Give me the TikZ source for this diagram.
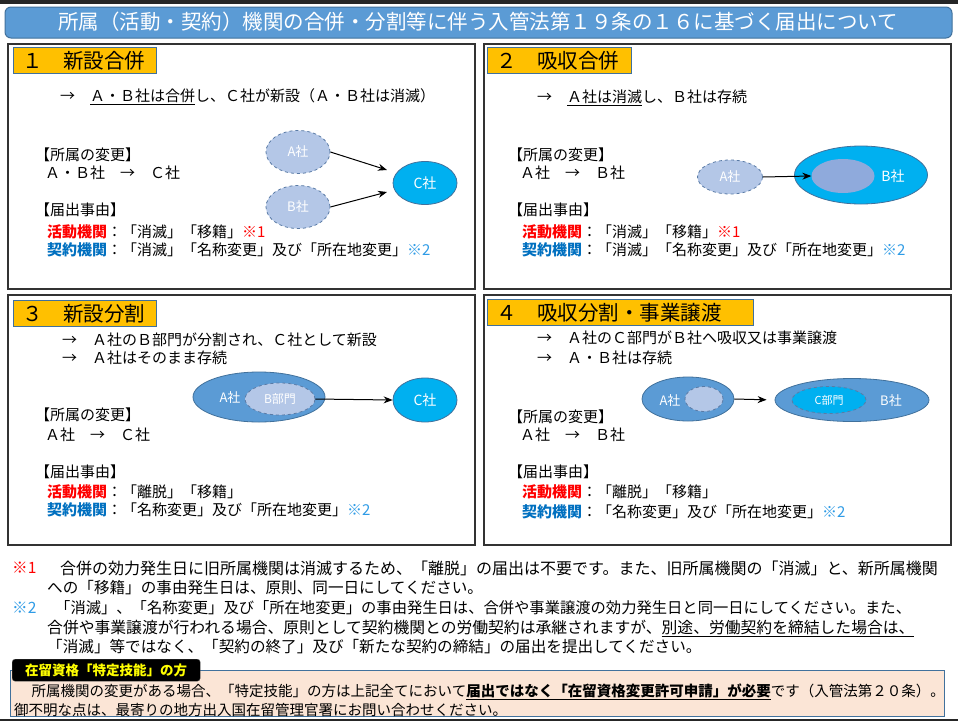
\documentclass[tikz,border=0pt]{standalone}
\usepackage{fontspec}
\setmainfont{Noto Sans CJK JP}
\usetikzlibrary{shapes.geometric,arrows.meta}
\definecolor{titleblue}{HTML}{5B9BD5}
\definecolor{edgeblue}{HTML}{41719C}
\definecolor{headorange}{HTML}{FFC000}
\definecolor{paleblue}{HTML}{B4C7E7}
\definecolor{cyanblue}{HTML}{00B0F0}
\definecolor{midblue}{HTML}{5B9BD5}
\definecolor{innerblue}{HTML}{8FAADC}
\definecolor{dashedge}{HTML}{5A7BA6}
\definecolor{katsudo}{HTML}{FF0000}
\definecolor{keiyaku}{HTML}{0070C0}
\definecolor{notetwo}{HTML}{2E9BE6}
\definecolor{peach}{HTML}{FBE5D6}
\definecolor{tabyellow}{HTML}{FFFF00}
\definecolor{framegray}{HTML}{333333}
\newcommand{\ktd}{\textcolor{katsudo}{\textbf{活動機関}}}
\newcommand{\kyk}{\textcolor{keiyaku}{\textbf{契約機関}}}
\newcommand{\nA}{\textcolor{katsudo}{※1}}
\newcommand{\nB}{\textcolor{notetwo}{※2}}
\begin{document}
\begin{tikzpicture}[x=1pt,y=-1pt,
  txt/.style={anchor=west,inner sep=0pt,font=\fontsize{15}{18}\selectfont},
  notetxt/.style={anchor=west,inner sep=0pt,font=\fontsize{15.6}{18}\selectfont},
  boxtxt/.style={anchor=west,inner sep=0pt,font=\fontsize{14.5}{17}\selectfont},
  panel/.style={draw=framegray,line width=1.5pt},
  hdbox/.style={draw=edgeblue,fill=headorange,line width=0.8pt,anchor=north west,
     minimum height=26pt,inner xsep=9pt,inner ysep=0pt,align=left,
     font=\fontsize{20.5}{24}\selectfont},
  dashell/.style={ellipse,draw=dashedge,dashed,line width=0.8pt,fill=paleblue,
     inner sep=0pt,text=white,font=\fontsize{13}{15}\selectfont},
  cyanell/.style={ellipse,draw=edgeblue,line width=0.8pt,fill=cyanblue,
     inner sep=0pt,text=white,font=\fontsize{14}{16}\selectfont},
  midell/.style={ellipse,draw=edgeblue,line width=0.8pt,fill=midblue,
     inner sep=0pt,text=white,font=\fontsize{13}{15}\selectfont},
  lbl/.style={inner sep=0pt,text=white,font=\fontsize{13}{15}\selectfont},
  arr/.style={-{Stealth[length=9pt,width=7pt]},line width=1pt,black}]
\useasboundingbox (0,0) rectangle (958,723);
\fill[white] (0,0) rectangle (958,723);
% top and bottom dark bars
\fill[black!85] (0,0) rectangle (958,4);
\fill[black!85] (0,718.5) rectangle (958,721);
% title
\draw[draw=edgeblue,fill=titleblue,line width=1pt,rounded corners=6pt] (5,7) rectangle (952,38);
\node (title) [text=white,inner sep=0pt,font=\fontsize{20.5}{24}\selectfont] at (478,22)
  {所属（活動・契約）機関の合併・分割等に伴う入管法第１９条の１６に基づく届出について};
% panels
\draw[panel] (8,44) rectangle (475,289);
\draw[panel] (484,44) rectangle (951,289);
\draw[panel] (8,295) rectangle (475,545);
\draw[panel] (484,295) rectangle (951,545);

% ===== Panel 1
\node (h1) [hdbox,text width=125pt] at (13,47) {１　新設合併};
\node (p1a) [txt] at (60,97) {→　\underline{Ａ・Ｂ社は合併}し、Ｃ社が新設（Ａ・Ｂ社は消滅）};
\node (p1b) [txt] at (35,155) {【所属の変更】};
\node (p1c) [txt] at (45,173) {Ａ・Ｂ社　→　Ｃ社};
\node (p1d) [txt] at (35,210) {【届出事由】};
\node (p1e) [txt] at (47,232) {\ktd：「消滅」「移籍」\nA};
\node (p1f) [txt] at (47,250) {\kyk：「消滅」「名称変更」及び「所在地変更」\nB};
\node (a1) [dashell,minimum width=64pt,minimum height=43pt] at (298,152) {A社};
\node (b1) [dashell,minimum width=64pt,minimum height=43pt] at (298,207) {B社};
\node (c1) [cyanell,minimum width=64pt,minimum height=43pt] at (425,183) {C社};
\coordinate (c1in) at (387,170);
\coordinate (c1in2) at (387,192);
\draw[arr] (a1.east) -- (c1in);
\draw[arr] (b1.east) -- (c1in2);

% ===== Panel 2
\node (h2) [hdbox,text width=126pt] at (487,47) {２　吸収合併};
\node (p2a) [txt] at (537,98) {→　\underline{Ａ社は消滅}し、Ｂ社は存続};
\node (p2b) [txt] at (508,155) {【所属の変更】};
\node (p2c) [txt] at (520,173) {Ａ社　→　Ｂ社};
\node (p2d) [txt] at (508,210) {【届出事由】};
\node (p2e) [txt] at (522,232) {\ktd：「消滅」「移籍」\nA};
\node (p2f) [txt] at (522,250) {\kyk：「消滅」「名称変更」及び「所在地変更」\nB};
\node (a2) [dashell,minimum width=65pt,minimum height=34pt] at (730,177) {A社};
\node (b2) [cyanell,minimum width=133pt,minimum height=58pt] at (861,175) {};
\node (i2) [ellipse,fill=innerblue,inner sep=0pt,minimum width=63pt,minimum height=34pt] at (843,176) {};
\node (b2l) [lbl,font=\fontsize{14}{16}\selectfont] at (893,176) {B社};
\draw[arr] (a2.east) -- (i2.west);

% ===== Panel 3
\node (h3) [hdbox,text width=125pt] at (13,300) {３　新設分割};
\node (p3a) [txt] at (62,340) {→　Ａ社のＢ部門が分割され、Ｃ社として新設};
\node (p3a2) [txt] at (62,358) {→　Ａ社はそのまま存続};
\node (p3b) [txt] at (35,415) {【所属の変更】};
\node (p3c) [txt] at (45,435) {Ａ社　→　Ｃ社};
\node (p3d) [txt] at (35,472) {【届出事由】};
\node (p3e) [txt] at (47,492) {\ktd：「離脱」「移籍」};
\node (p3f) [txt] at (47,510) {\kyk：「名称変更」及び「所在地変更」\nB};
\node (a3) [midell,minimum width=132pt,minimum height=50pt] at (259,397) {};
\node (a3l) [lbl] at (230,398) {A社};
\node (bb3) [dashell,minimum width=70pt,minimum height=32pt,font=\fontsize{12}{14}\selectfont] at (280,399) {B部門};
\node (c3) [cyanell,minimum width=64pt,minimum height=44pt] at (425,400) {C社};
\draw[arr] (bb3.east) -- (c3.west);

% ===== Panel 4
\node (h4) [hdbox,text width=248pt] at (487,299) {４　吸収分割・事業譲渡};
\node (p4a) [txt] at (537,338) {→　Ａ社のＣ部門がＢ社へ吸収又は事業譲渡};
\node (p4a2) [txt] at (537,358) {→　Ａ・Ｂ社は存続};
\node (p4b) [txt] at (508,417) {【所属の変更】};
\node (p4c) [txt] at (520,435) {Ａ社　→　Ｂ社};
\node (p4d) [txt] at (508,472) {【届出事由】};
\node (p4e) [txt] at (522,492) {\ktd：「離脱」「移籍」};
\node (p4f) [txt] at (522,512) {\kyk：「名称変更」及び「所在地変更」\nB};
\node (a4) [midell,minimum width=92pt,minimum height=44pt] at (688,399) {};
\node (a4l) [lbl] at (670,401) {A社};
\node (i4) [dashell,minimum width=38pt,minimum height=25pt] at (704,399) {};
\node (b4) [midell,minimum width=154pt,minimum height=43pt] at (852,400) {};
\node (c4) [dashell,fill=cyanblue,minimum width=74pt,minimum height=27pt,font=\fontsize{11}{13}\selectfont] at (829,400) {C部門};
\node (b4l) [lbl] at (891,401) {B社};
\draw[arr,shorten >=8pt] (a4.east) -- (b4.west);

% ===== Notes
\node (n1m) [notetxt,text=katsudo] at (12,568) {※1};
\node (n1a) [notetxt,font=\fontsize{16}{18}\selectfont] at (60,568) {合併の効力発生日に旧所属機関は消滅するため、「離脱」の届出は不要です。また、旧所属機関の「消滅」と、新所属機関};
\node (n1b) [notetxt] at (47,588) {への「移籍」の事由発生日は、原則、同一日にしてください。};
\node (n2m) [notetxt,text=notetwo] at (12,608) {※2};
\node (n2a) [notetxt,font=\fontsize{15.3}{18}\selectfont] at (55,608) {「消滅」、「名称変更」及び「所在地変更」の事由発生日は、合併や事業譲渡の効力発生日と同一日にしてください。また、};
\node (n2b) [notetxt,font=\fontsize{15.8}{18}\selectfont] at (47,628) {合併や事業譲渡が行われる場合、原則として契約機関との労働契約は承継されますが、\underline{別途、労働契約を締結した場合は、}};
\node (n2c) [notetxt] at (47,647) {「消滅」等ではなく、「契約の終了」及び「新たな契約の締結」の届出を提出してください。};

% ===== Bottom box
\draw[draw=edgeblue,fill=peach,line width=0.8pt] (10,670) rectangle (944,716);
\node (tab) [draw=black!70,fill=black,rounded corners=3pt,anchor=north west,
  minimum width=188pt,minimum height=22pt,inner sep=2pt,text=tabyellow,
  font=\bfseries\fontsize{13.5}{15}\selectfont] at (12,659) {在留資格「特定技能」の方};
\node (bx1) [boxtxt] at (17,692) {　所属機関の変更がある場合、「特定技能」の方は上記全てにおいて\underline{\textbf{届出ではなく「在留資格変更許可申請」が必要}}です（入管法第２０条）。};
\node (bx2) [boxtxt] at (14,710) {御不明な点は、最寄りの地方出入国在留管理官署にお問い合わせください。};
\end{tikzpicture}
\end{document}
